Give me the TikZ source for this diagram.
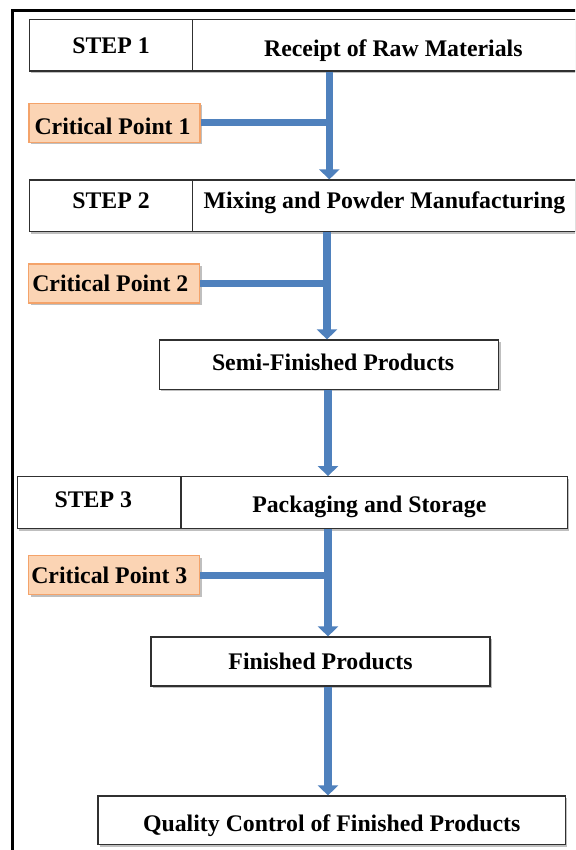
\documentclass[tikz,border=0pt]{standalone}
\usepackage{fontspec}
\setmainfont{Liberation Serif}
\usetikzlibrary{arrows.meta,shadows}
\definecolor{flowblue}{HTML}{4F81BD}
\definecolor{cpfill}{HTML}{FBD4B4}
\definecolor{cpdraw}{HTML}{F4A36A}
\definecolor{boxline}{HTML}{303030}
\tikzset{
  lbl/.style={font=\fontsize{23.8}{26}\selectfont\bfseries, text height=16pt, text depth=0pt, inner sep=0pt},
  wbox/.style={lbl, draw=boxline, line width=1.2pt, fill=white, rectangle,
    drop shadow={shadow xshift=1.8pt, shadow yshift=-1.8pt, opacity=0.5}},
  cpbox/.style={lbl, draw=cpdraw, line width=1.2pt, fill=cpfill, rectangle,
    minimum width=171pt, minimum height=39pt,
    drop shadow={shadow xshift=1.8pt, shadow yshift=-1.8pt, opacity=0.5}},
  flow/.style={draw=flowblue, line width=7.5pt, -{Triangle[width=20pt,length=10pt]}},
  feed/.style={draw=flowblue, line width=7pt},
  frame/.style={draw=black, line width=3pt}
}
\begin{document}
\begin{tikzpicture}[x=1pt,y=-1pt]
\useasboundingbox (0,0) rectangle (575,850);
\clip (0,0) rectangle (575,850);
\fill[white] (0,0) rectangle (575,850);
% outer frame
\draw[frame] (12.2,900) -- (12.2,10.7) -- (620,10.7);
% step rows
\node[wbox, minimum width=163.4pt, minimum height=51.7pt] (s1) at (111,45.2) {STEP 1};
\node[wbox, minimum width=401.3pt, minimum height=51.7pt, text height=22pt] (r1) at (393.35,45.2) {Receipt of Raw Materials};
\node[wbox, minimum width=163.4pt, minimum height=51.7pt, text depth=10pt] (s2) at (111,205.85) {STEP 2};
\node[wbox, minimum width=383.3pt, minimum height=51.7pt, text depth=10pt] (r2) at (384.35,205.85) {Mixing and Powder Manufacturing};
\node[wbox, minimum width=163.4pt, minimum height=52pt, text depth=6pt] (s3) at (99.3,502.7) {\hspace*{-12pt}STEP 3};
\node[wbox, minimum width=386.6pt, minimum height=52pt, text height=20pt] (r3) at (374.3,502.7) {\hspace*{-10pt}Packaging and Storage};
% product boxes
\node[wbox, minimum width=339.2pt, minimum height=49.3pt, text depth=5pt] (semi) at (329.1,364.65) {\hspace*{8pt}Semi-Finished Products};
\node[wbox, minimum width=339pt, minimum height=49pt] (fin) at (320.5,661.5) {Finished Products};
\node[wbox, minimum width=467.5pt, minimum height=48.7pt, text height=22pt] (qc) at (331.75,820.35) {Quality Control of Finished Products};
% critical points
\node[cpbox, text height=24pt] (cp1) at (114.5,123) {\hspace*{-4pt}Critical Point 1};
\node[cpbox] (cp2) at (114.3,283.4) {\hspace*{-8pt}Critical Point 2};
\node[cpbox] (cp3) at (114.3,575.2) {\hspace*{-10pt}Critical Point 3};
% arrow columns
\coordinate (c1) at (329.3,0);
\coordinate (c2) at (327,0);
\coordinate (c3) at (328,0);
% connectors
\draw[flow] (c1 |- r1.south) -- (c1 |- r2.north);
\draw[feed] (cp1.east) -- (cp1.east -| c1);
\draw[flow] (c2 |- r2.south) -- (c2 |- semi.north);
\draw[feed] (cp2.east) -- (cp2.east -| c2);
\draw[flow] (c3 |- semi.south) -- (c3 |- r3.north);
\draw[flow] (c3 |- r3.south) -- (c3 |- fin.north);
\draw[feed] (cp3.east) -- (cp3.east -| c3);
\draw[flow] (c3 |- fin.south) -- (c3 |- qc.north);
\end{tikzpicture}
\end{document}
